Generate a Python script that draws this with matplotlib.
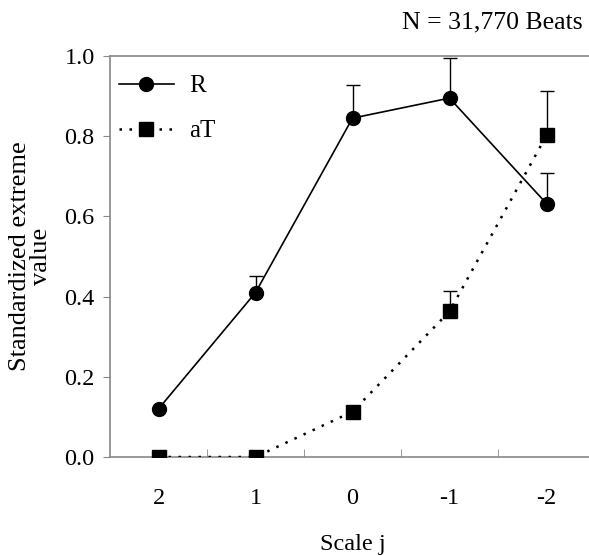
import matplotlib.pyplot as plt
from matplotlib.ticker import FixedLocator

scales = ["2", "1", "0", "-1", "-2"]
r_vals = [0.12, 0.41, 0.845, 0.895, 0.632]
r_err = [0.0, 0.042, 0.083, 0.10, 0.075]
at_vals = [0.0, 0.0, 0.113, 0.363, 0.802]
at_err = [0.0, 0.0, 0.0, 0.052, 0.11]

plt.rcParams["font.family"] = ["Liberation Serif", "DejaVu Serif"]

fig = plt.figure(figsize=(5.89, 5.56), dpi=100)
ax = fig.add_axes([110 / 589, 1 - 457 / 556, 485 / 589, 401 / 556])

x = list(range(len(scales)))

ax.errorbar(x, r_vals, yerr=[[0] * 5, r_err], fmt="none", ecolor="black",
            elinewidth=1.0, capsize=5, capthick=1.0, zorder=2)
ax.errorbar(x, at_vals, yerr=[[0] * 5, at_err], fmt="none", ecolor="black",
            elinewidth=1.0, capsize=5, capthick=1.0, zorder=2)

ax.plot(x, r_vals, color="black", lw=1.2, marker="o", markersize=10,
        label="R", zorder=3)
ax.plot(x, at_vals, color="black", lw=1.8, linestyle=(0, (1, 3)),
        marker="s", markersize=10, label="aT", zorder=3)

ax.set_xlim(-0.5, 4.5)
ax.set_ylim(0, 1.0)
ax.set_xticks(x)
ax.set_xticklabels(scales)
ax.xaxis.set_minor_locator(FixedLocator([0.5, 1.5, 2.5, 3.5]))
ax.tick_params(axis="x", which="major", length=0, labelsize=17.5, pad=22)
ax.tick_params(axis="x", which="minor", direction="in", length=6, color="#888888")
ax.set_yticks([0.0, 0.2, 0.4, 0.6, 0.8, 1.0])
ax.set_yticklabels(["0.0", "0.2", "0.4", "0.6", "0.8", "1.0"])
ax.tick_params(axis="y", direction="out", length=5, color="#888888",
               labelsize=17.5, pad=6)

for s in ["left", "bottom", "top"]:
    ax.spines[s].set_color("#888888")
    ax.spines[s].set_linewidth(1.2)
ax.spines["right"].set_visible(False)

ax.set_xlabel("Scale j", fontsize=17.5, labelpad=18)
ax.set_ylabel("Standardized extreme\nvalue", fontsize=19, labelpad=9,
              linespacing=0.95)

ax.legend(loc="upper left", bbox_to_anchor=(0.0, 0.975), frameon=False,
          fontsize=18, handlelength=2.2, handletextpad=0.6, labelspacing=0.9,
          borderaxespad=0.0, borderpad=0.35)

fig.text(583 / 589, 1 - 22 / 556, "N = 31,770 Beats", ha="right", va="center",
         fontsize=18.5)

fig.savefig("out.png", dpi=100)
